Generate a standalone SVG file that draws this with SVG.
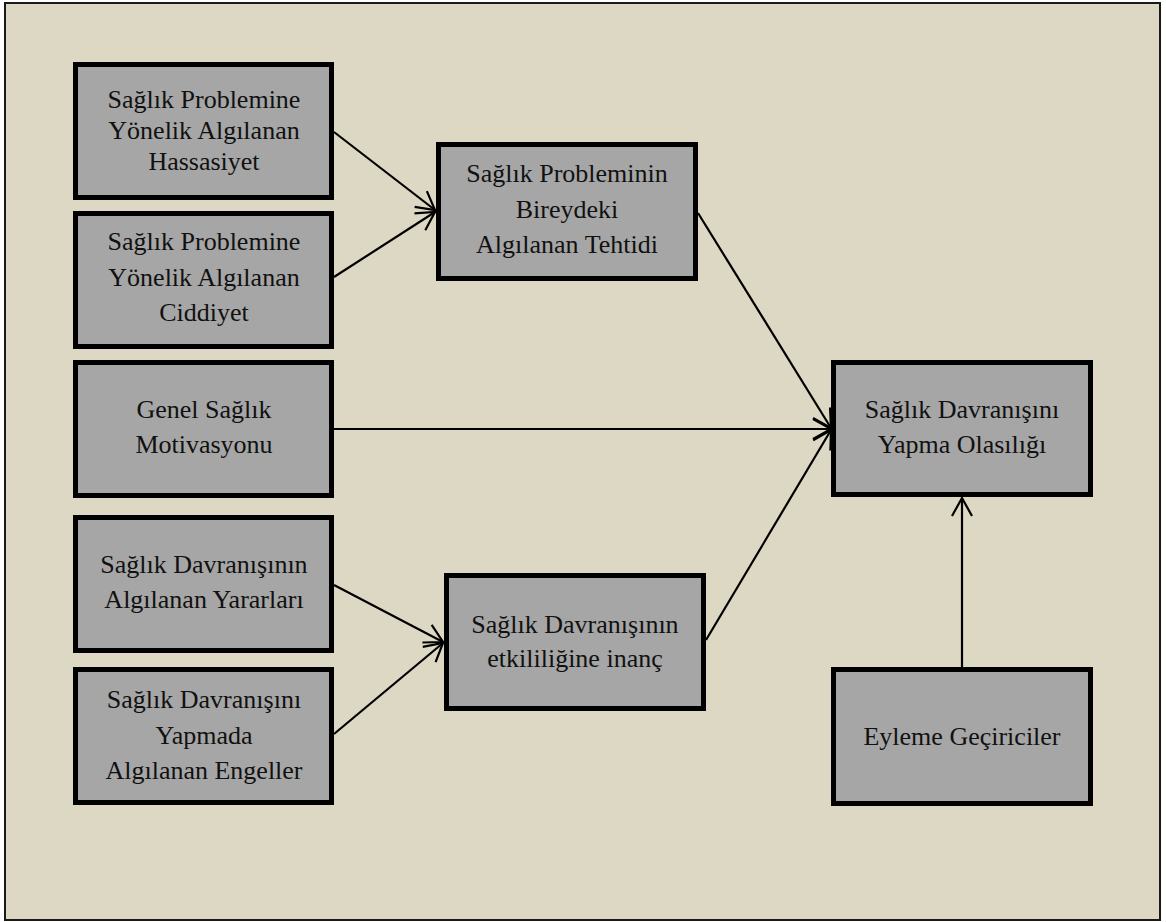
<svg xmlns="http://www.w3.org/2000/svg" width="1166" height="922" viewBox="0 0 1166 922">
<defs>
<style>
.bg{fill:#DDD8C3;stroke:#1a1a1a;stroke-width:2}
.box{fill:#A6A6A6;stroke:#000;stroke-width:5}
.c{stroke:#000;stroke-width:2.2;fill:none}
</style>
<marker id="arr" markerUnits="userSpaceOnUse" markerWidth="40" markerHeight="40" viewBox="-25 -20 30 40" refX="0" refY="0" orient="auto" overflow="visible">
<path d="M-18,-10 L0,0 L-18,10" fill="none" stroke="#000" stroke-width="2.2"/>
</marker>
</defs>
<rect class="bg" x="5" y="3" width="1155" height="917"/>
<g id="connectors">
<line class="c" x1="334" y1="132" x2="435" y2="210" marker-end="url(#arr)"/>
<line class="c" x1="334" y1="277" x2="435" y2="212" marker-end="url(#arr)"/>
<line class="c" x1="698" y1="213" x2="831" y2="428" marker-end="url(#arr)"/>
<line class="c" x1="334" y1="429" x2="831" y2="429" marker-end="url(#arr)"/>
<line class="c" x1="706" y1="640" x2="831" y2="430" marker-end="url(#arr)"/>
<line class="c" x1="334" y1="585" x2="443" y2="642" marker-end="url(#arr)"/>
<line class="c" x1="334" y1="734" x2="443" y2="643" marker-end="url(#arr)"/>
<line class="c" x1="962" y1="667" x2="962" y2="498" marker-end="url(#arr)"/>
</g>
<g font-family="'Liberation Serif', 'Times New Roman', serif" font-size="26" text-anchor="middle" fill="#111">
<g id="n1">
<rect class="box" x="75.5" y="64.5" width="256" height="133"/>
<text x="204" y="108">Sağlık Problemine</text>
<text x="204" y="139">Yönelik Algılanan</text>
<text x="204" y="170">Hassasiyet</text>
</g>
<g id="n2">
<rect class="box" x="75.5" y="213.5" width="256" height="133"/>
<text x="204" y="250">Sağlık Problemine</text>
<text x="204" y="286">Yönelik Algılanan</text>
<text x="204" y="321">Ciddiyet</text>
</g>
<g id="n3">
<rect class="box" x="75.5" y="362.5" width="256" height="133"/>
<text x="204" y="418">Genel Sağlık</text>
<text x="204" y="453">Motivasyonu</text>
</g>
<g id="n4">
<rect class="box" x="75.5" y="517.5" width="256" height="133"/>
<text x="204" y="573">Sağlık Davranışının</text>
<text x="204" y="608">Algılanan Yararları</text>
</g>
<g id="n5">
<rect class="box" x="75.5" y="669.5" width="256" height="133"/>
<text x="204" y="708">Sağlık Davranışını</text>
<text x="204" y="744">Yapmada</text>
<text x="204" y="779">Algılanan Engeller</text>
</g>
<g id="n6">
<rect class="box" x="438.5" y="144.5" width="257" height="134"/>
<text x="567" y="182">Sağlık Probleminin</text>
<text x="567" y="218">Bireydeki</text>
<text x="567" y="253">Algılanan Tehtidi</text>
</g>
<g id="n7">
<rect class="box" x="446.5" y="575.5" width="257" height="133"/>
<text x="575" y="633">Sağlık Davranışının</text>
<text x="575" y="667">etkililiğine inanç</text>
</g>
<g id="n8">
<rect class="box" x="833.5" y="362.5" width="257" height="132"/>
<text x="962" y="418">Sağlık Davranışını</text>
<text x="962" y="453">Yapma Olasılığı</text>
</g>
<g id="n9">
<rect class="box" x="833.5" y="669.5" width="257" height="134"/>
<text x="962" y="745">Eyleme Geçiriciler</text>
</g>
</g>
</svg>
